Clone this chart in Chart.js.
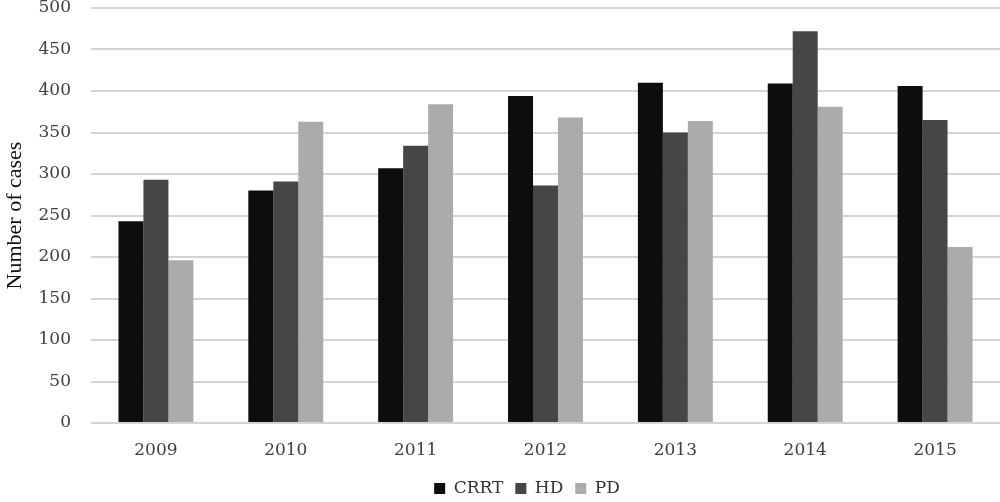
<!DOCTYPE html>
<html>
<head>
<meta charset="utf-8">
<script src="https://cdn.jsdelivr.net/npm/chart.js@4.4.0/dist/chart.umd.min.js"></script>
<style>
  html, body { margin: 0; padding: 0; background: #fff; }
  #wrap { width: 1000px; height: 502px; position: relative; }
</style>
</head>
<body>
<div id="wrap"><canvas id="barChart"></canvas></div>
<script>
const years = ['2009', '2010', '2011', '2012', '2013', '2014', '2015'];
const crrt = [243, 280, 307, 394, 410, 409, 406];
const hd = [293, 291, 334, 286, 350, 472, 365];
const pd = [196, 363, 384, 368, 364, 381, 212];
const yTicks = [0, 50, 100, 150, 200, 250, 300, 350, 400, 450, 500];

const tickFont = { family: 'DejaVu Serif', size: 17 };

// the legend in the original sits a little right of the page centre
const shiftLegend = {
    id: 'shiftLegend',
    afterLayout(chart) {
        chart.legend.left += 27;
        chart.legend.right += 27;
    }
};

const ctx = document.getElementById('barChart').getContext('2d');
const barChart = new Chart(ctx, {
    type: 'bar',
    data: {
        labels: years,
        datasets: [
            { label: 'CRRT', data: crrt, backgroundColor: '#0d0d0d' },
            { label: 'HD', data: hd, backgroundColor: '#464646' },
            { label: 'PD', data: pd, backgroundColor: '#ababab' }
        ]
    },
    options: {
        responsive: true,
        maintainAspectRatio: false,
        animation: false,
        layout: { padding: { top: 8, right: 0, bottom: -5, left: 0 } },
        datasets: {
            bar: { barPercentage: 1, categoryPercentage: 0.577 }
        },
        plugins: {
            tooltip: { enabled: false },
            legend: {
                position: 'bottom',
                labels: {
                    color: '#333',
                    font: tickFont,
                    boxWidth: 11,
                    boxHeight: 11,
                    padding: 12
                }
            }
        },
        scales: {
            x: {
                afterFit: axis => { axis.height = 45; },
                grid: { display: false },
                border: { display: false },
                ticks: { color: '#404040', font: tickFont, padding: 9 }
            },
            y: {
                min: 0,
                max: 500,
                afterBuildTicks: axis => { axis.ticks = yTicks.map(v => ({ value: v })); },
                afterFit: axis => {
                    axis.width = 91;
                    axis.paddingTop = 0;
                    axis.paddingBottom = 0;
                },
                grid: { color: '#d4d4d4', lineWidth: 2, drawTicks: false },
                border: { display: false },
                ticks: { color: '#404040', font: tickFont, padding: 20 },
                title: {
                    display: true,
                    text: 'Number of cases',
                    color: '#111',
                    font: { family: 'Liberation Serif', size: 22 },
                    padding: { top: 2, bottom: 0 }
                }
            }
        }
    },
    plugins: [shiftLegend]
});
</script>
</body>
</html>
